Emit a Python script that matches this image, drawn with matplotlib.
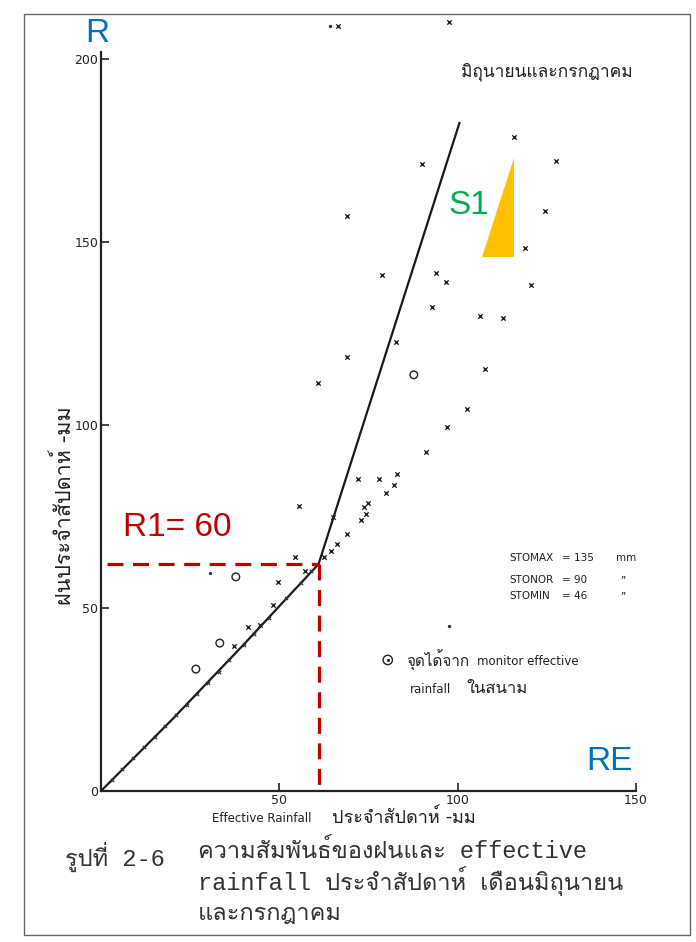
import matplotlib
matplotlib.use("Agg")
import matplotlib.pyplot as plt
from matplotlib.patches import Polygon, Rectangle

# weekly effective rainfall (RE) vs weekly rainfall (R), June-July
cross_x = [97.5, 66.4, 115.7, 90.0, 127.7, 124.6, 68.9, 118.8, 78.7, 93.8, 96.6,
           120.7, 92.7, 106.4, 112.6, 82.6, 68.9, 107.8, 60.8, 102.5, 96.9,
           91.0, 72.0, 77.9, 82.9, 82.1, 79.8, 55.5, 74.8, 73.7, 74.2,
           72.8, 68.9, 66.1, 64.4, 62.5, 54.3, 57.1, 65.0, 49.6, 48.2,
           41.2, 44.5, 37.3]
cross_y = [210, 209, 178.7, 171.3, 172, 158.5, 157, 148.4, 141, 141.5, 139,
           138.3, 132.2, 129.8, 129.2, 122.7, 118.6, 115.3, 111.5, 104.4, 99.5,
           92.6, 85.2, 85.2, 86.6, 83.6, 81.4, 77.9, 78.7, 77.6, 75.7,
           74.0, 70.2, 67.5, 65.6, 63.9, 63.9, 60.1, 74.9, 57.1, 50.8,
           44.8, 45.4, 39.6]

# small marks sitting on the lower segment of the curve
online_x = [3, 6, 9, 12, 15, 18, 21, 24, 27, 30, 33, 36, 40, 43, 47, 52, 56, 59]
online_y = [3, 6, 9, 12, 14.8, 17.8, 20.7, 23.6, 26.5, 29.6, 32.6, 35.7, 40, 43, 47.2, 52.6, 56.8, 60]

dot_x = [30.5, 97.5, 64.3]
dot_y = [59.6, 45.0, 209.0]

# points from the field monitor of effective rainfall
circ_x = [87.7, 37.8, 33.3, 26.6]
circ_y = [113.7, 58.5, 40.4, 33.3]

# fitted relation
curve_x = [0, 20, 40, 50, 61, 100.5]
curve_y = [0, 19.6, 40, 50.5, 62, 182.5]

R1 = 61
R1_y = 62
x_ticks = [50, 100, 150]
y_ticks = [0, 50, 100, 150, 200]

thai = ["Loma", "DejaVu Sans"]
mono = ["Liberation Mono", "Loma"]
ink = "#222222"

W, H = 696, 942
fig = plt.figure(figsize=(W / 100, H / 100), dpi=100)


def px(x, y):
    return x / W, 1 - y / H


# scanned page frame
fig.patches.append(Rectangle(px(24, 935), 666 / W, 921 / H, transform=fig.transFigure,
                             fill=False, edgecolor="#666666", linewidth=1.0))

ax = fig.add_axes([101 / W, 151 / H, 535 / W, 787 / H])
ax.set_xlim(0, 150)
ax.set_ylim(0, 215)
ax.patch.set_alpha(0)
for s in ["top", "right"]:
    ax.spines[s].set_visible(False)
ax.spines["left"].set_bounds(0, 202)
for s in ["left", "bottom"]:
    ax.spines[s].set_linewidth(1.6)
    ax.spines[s].set_color(ink)

ax.set_xticks(x_ticks)
ax.set_yticks(y_ticks)
ax.tick_params(direction="in", length=6, width=1.2, labelsize=9, colors=ink, pad=2)

ax.plot(curve_x, curve_y, color="#1a1a1a", linewidth=1.6, zorder=3)
ax.scatter(cross_x, cross_y, marker="x", s=10, linewidths=1.0, color=ink, zorder=4)
ax.scatter(online_x, online_y, marker="x", s=6, linewidths=0.8, color="#333333", zorder=4)
ax.scatter(dot_x, dot_y, marker=".", s=8, color="#333333", zorder=4)
ax.scatter(circ_x, circ_y, marker="o", s=30, facecolors="none", edgecolors=ink,
           linewidths=1.0, zorder=4)

# R1 guide lines
ax.plot([1.7, R1], [R1_y, R1_y], color="#c00000", linewidth=2.3, dashes=(5, 3), zorder=5)
ax.plot([R1, R1], [R1_y, 0], color="#c00000", linewidth=2.3, dashes=(5, 3), zorder=5,
        clip_on=False)

# S1 slope triangle
ax.add_patch(Polygon([(106.8, 145.9), (115.7, 145.9), (115.7, 172.9)], closed=True,
                     facecolor="#ffc000", edgecolor="none", zorder=2))

ax.text(125, 196.4, "มิถุนายนและกรกฎาคม", family=thai, fontsize=12.5, ha="center", va="center",
        color=ink)

# storage parameters
for lab, val, unit, yy in [("STOMAX", "= 135", "mm", 63.7),
                           ("STONOR", "= 90", "”", 57.7),
                           ("STOMIN", "= 46", "”", 53.3)]:
    ax.text(114.6, yy, lab, fontsize=7.5, color=ink, va="center")
    ax.text(129.3, yy, val, fontsize=7.5, color=ink, va="center")
    ax.text(144.5 if unit == "mm" else 145.5, yy, unit, fontsize=7.5, color=ink, va="center")

# legend note
ax.scatter([80.4], [35.8], marker="o", s=45, facecolors="none", edgecolors=ink, linewidths=1.0)
ax.scatter([80.4], [35.8], marker=".", s=6, color=ink)
ax.text(85.5, 35.8, "จุดได้จาก", family=thai, fontsize=11, va="center", color=ink)
ax.text(105.5, 35.5, "monitor effective", fontsize=8.5, va="center", color=ink)
ax.text(86.6, 27.6, "rainfall", fontsize=8.5, va="center", color=ink)
ax.text(102.5, 27.8, "ในสนาม", family=thai, fontsize=12, va="center", color=ink)

# axis titles
fig.text(*px(65, 506), "ฝนประจำสัปดาห์ -มม", family=thai, fontsize=15.5, rotation=90,
         ha="center", va="center", color=ink)
fig.text(*px(212, 819), "Effective Rainfall", fontsize=8.5, ha="left", va="center", color=ink)
fig.text(*px(332, 818), "ประจำสัปดาห์ -มม", family=thai, fontsize=13, ha="left", va="center",
         color=ink)

# caption
cap = dict(family=mono, fontsize=17, ha="left", va="center", color="#333333")
fig.text(*px(65, 857), "รูปที่ 2-6", **cap)
fig.text(*px(198, 851), "ความสัมพันธ์ของฝนและ effective", **cap)
fig.text(*px(198, 881), "rainfall ประจำสัปดาห์ เดือนมิถุนายน", **cap)
fig.text(*px(198, 913), "และกรกฎาคม", **cap)

# coloured overlay annotations
over = dict(family="Liberation Sans", fontsize=24, ha="center", va="center")
fig.text(*px(97, 33), "R", color="#0070c0", **over)
fig.text(*px(609, 762), "RE", color="#0070c0", **over)
fig.text(*px(177, 527), "R1= 60", color="#c00000", **over)
fig.text(*px(469, 205), "S1", color="#00b050", **over)

fig.savefig("out.png", dpi=100)
